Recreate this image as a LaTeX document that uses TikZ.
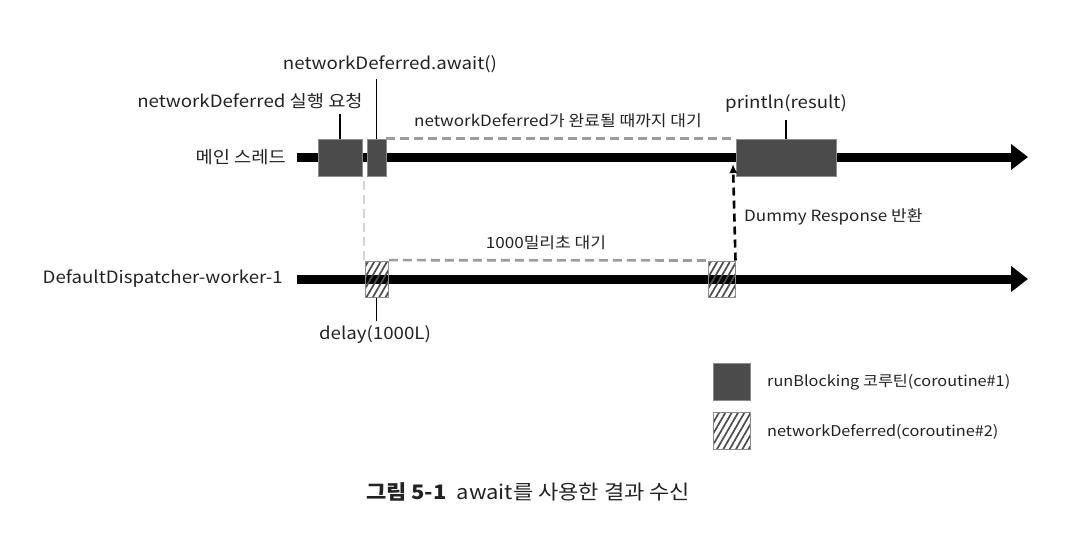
\documentclass[tikz,border=0pt]{standalone}
\usepackage{fontspec}
\setmainfont{Noto Sans CJK KR}[FakeStretch=1.1]
\usepackage{tikz}
\usetikzlibrary{arrows.meta,patterns.meta,calc}

\definecolor{blkgray}{HTML}{4B4B4B}
\definecolor{edgegray}{HTML}{8C8C8C}
\definecolor{waitgray}{HTML}{9C9C9C}
\definecolor{linkgray}{HTML}{D4D4D4}
\definecolor{txtgray}{HTML}{222222}

\tikzset{
  thread/.style={line width=9pt,-{Triangle[length=17pt,width=25pt]}},
  mainblk/.style={draw=edgegray,fill=blkgray,line width=0.8pt,inner sep=0pt,minimum height=37pt},
  subblk/.style={draw=edgegray,line width=1pt,inner sep=0pt,minimum height=36pt,
    pattern={Lines[angle=60,distance=5.5pt,line width=1.7pt]},pattern color=blkgray},
  tick/.style={line width=1.4pt},
  waitline/.style={draw=waitgray,line width=2.6pt,dash pattern=on 9pt off 5pt},
  linkline/.style={draw=linkgray,line width=2.6pt,dash pattern=on 9pt off 5pt},
  backline/.style={line width=2.6pt,dash pattern=on 8pt off 5pt,-{Latex[length=9pt,width=8pt]}},
  lbl/.style={text=txtgray,font=\fontsize{17}{20}\selectfont,inner sep=1pt},
  small/.style={text=txtgray,font=\fontsize{15.5}{18}\selectfont,inner sep=1pt},
  leglbl/.style={text=txtgray,font=\fontsize{14.8}{18}\selectfont,inner sep=1pt,anchor=west}
}

\begin{document}
\begin{tikzpicture}[x=1pt,y=-1pt]
  \useasboundingbox (0,0) rectangle (1074,536);
  % threads
  \node[lbl,anchor=east] (mainlbl) at (287,157) {메인 스레드};
  \node[lbl,anchor=east] (worklbl) at (284,279) {DefaultDispatcher-worker-1};
  \coordinate (mainstart) at (297,157);
  \coordinate (mainend) at (1028,157);
  \coordinate (workstart) at (297,279);
  \coordinate (workend) at (1028,279);
  \draw[thread] (mainstart) -- (mainend);
  \draw[thread] (workstart) -- (workend);

  % blocks
  \node[mainblk,minimum width=44pt] (run1) at (340,157.5) {};
  \node[mainblk,minimum width=19pt] (run2) at (376.5,157.5) {};
  \node[mainblk,minimum width=100pt] (print) at (786,157.5) {};
  \node[subblk,minimum width=23pt] (dly1) at (376.5,279) {};
  \node[subblk,minimum width=27pt] (dly2) at (721.5,279) {};

  % waiting
  \draw[waitline] (run2.north east) -- (print.north west);
  \draw[waitline] (dly1.north east) -- (dly2.north west);
  \draw[linkline] (dly1.north west) -- (dly1.north west |- run1.south);
  \coordinate (back) at (733,164);
  \draw[backline] (dly2.north east) -- (back);

  % labels
  \draw[tick] (run1.north) -- ++(0,-25);
  \draw[tick] (run2.north) -- ++(0,-60);
  \draw[tick] (print.north) -- ++(0,-19);
  \draw[tick] (dly1.south) -- ++(0,23);
  \node[lbl] (reqlbl) at (250,101) {networkDeferred 실행 요청};
  \node[lbl] (awaitlbl) at (390,64) {networkDeferred.await()};
  \node[small] (waitlbl) at (558,121) {networkDeferred가 완료될 때까지 대기};
  \node[lbl] (printlbl) at (786,103) {println(result)};
  \node[small,anchor=west] (backlbl) at (743,217) {Dummy Response 반환};
  \node[small] (delaywait) at (546,243) {1000밀리초 대기};
  \node[lbl] (delaylbl) at (375,335) {delay(1000L)};

  % legend
  \node[mainblk,minimum width=37pt] (leg1) at (731.5,381.5) {};
  \node[subblk,minimum width=37pt,minimum height=37pt] (leg2) at (731.5,431) {};
  \node[leglbl] (leg1lbl) at (766,382) {runBlocking 코루틴(coroutine\#1)};
  \node[leglbl] (leg2lbl) at (766,432) {networkDeferred(coroutine\#2)};

  % caption
  \node[text=txtgray,font=\fontsize{20}{24}\selectfont] (caption) at (528,492)
    {\textbf{그림 5-1}\enspace await를 사용한 결과 수신};
\end{tikzpicture}
\end{document}
